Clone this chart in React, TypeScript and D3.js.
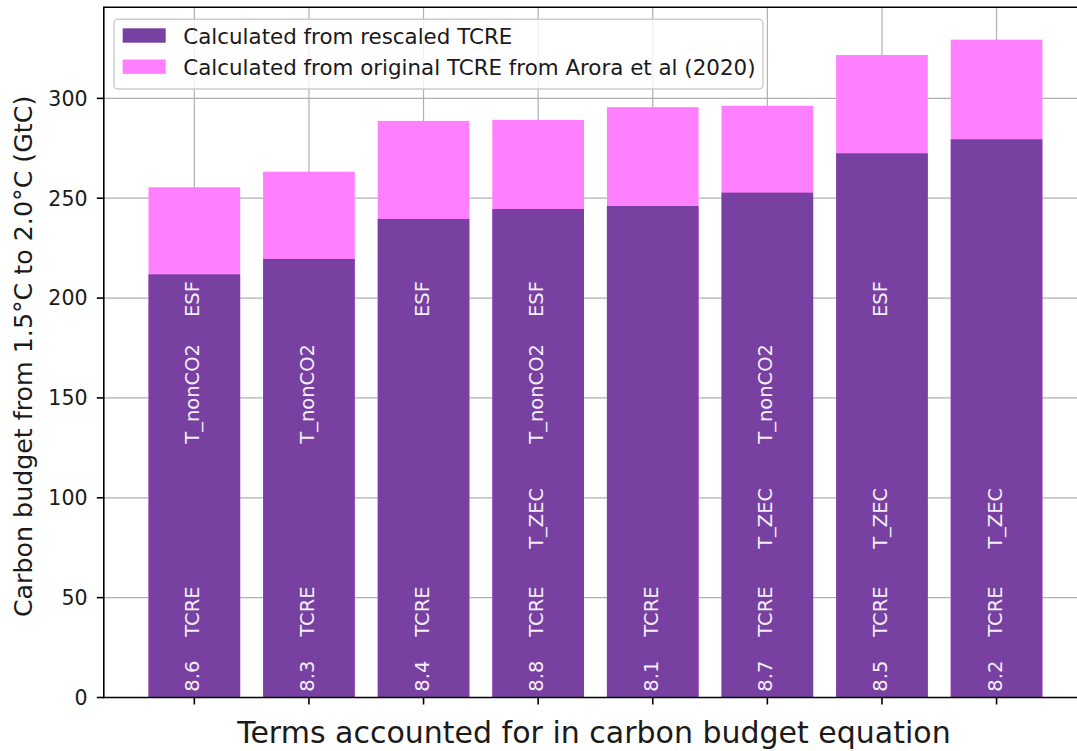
import React from "react";
import * as d3 from "d3";

const sections = ["8.6", "8.3", "8.4", "8.8", "8.1", "8.7", "8.5", "8.2"];
const rescaledTCRE = [211.9, 219.6, 239.6, 244.6, 246.1, 252.8, 272.5, 279.5];
const originalTCRE = [255.5, 263.3, 288.7, 289.2, 295.6, 296.3, 321.7, 329.4];
const termsPerBar = [
  ["TCRE", "T_nonCO2", "ESF"],
  ["TCRE", "T_nonCO2"],
  ["TCRE", "ESF"],
  ["TCRE", "T_ZEC", "T_nonCO2", "ESF"],
  ["TCRE"],
  ["TCRE", "T_ZEC", "T_nonCO2"],
  ["TCRE", "T_ZEC", "ESF"],
  ["TCRE", "T_ZEC"],
];
const termLabelY: Record<string, number> = { TCRE: 43, T_ZEC: 89.7, T_nonCO2: 152, ESF: 199.5 };
const sectionLabelY = 10.7;
const yTicks = [0, 50, 100, 150, 200, 250, 300];
const legendLabels = [
  "Calculated from rescaled TCRE",
  "Calculated from original TCRE from Arora et al (2020)",
];
const xLabel = "Terms accounted for in carbon budget equation";
const yLabel = "Carbon budget from 1.5°C to 2.0°C (GtC)";

const PURPLE = "#7840A0";
const PINK = "#FF80FF";
const FONT = "'DejaVu Sans', sans-serif";

export default function App() {
  const W = 1077;
  const H = 751;
  const x = d3.scaleLinear().domain([-0.79, 7.79]).range([103.8, 1087.1]);
  const y = d3.scaleLinear().domain([0, 345.6]).range([697.5, 7.3]);
  const bw = x(0.8) - x(0);
  const idx = d3.range(sections.length);

  return (
    <svg
      width={W}
      height={H}
      style={{ position: "absolute", left: 0, top: 0, background: "#fff" }}
      fontFamily={FONT}
    >
      {/* grid */}
      <g stroke="#b0b0b0" strokeWidth={1.2}>
        {yTicks.map((t) => (
          <line key={"gy" + t} x1={x(-0.79)} x2={x(7.79)} y1={y(t)} y2={y(t)} />
        ))}
        {idx.map((i) => (
          <line key={"gx" + i} x1={x(i)} x2={x(i)} y1={y(0)} y2={y(345.6)} />
        ))}
      </g>
      {/* bars */}
      {idx.map((i) => (
        <g key={"b" + i}>
          <rect
            x={x(i) - bw / 2}
            width={bw}
            y={y(originalTCRE[i])}
            height={y(0) - y(originalTCRE[i])}
            fill={PINK}
          />
          <rect
            x={x(i) - bw / 2}
            width={bw}
            y={y(rescaledTCRE[i])}
            height={y(0) - y(rescaledTCRE[i])}
            fill={PURPLE}
          />
        </g>
      ))}
      {/* bar labels */}
      {idx.map((i) => (
        <g key={"l" + i} fill="#f4eef8" fontSize={19.5}>
          <text
            transform={`translate(${x(i) + 5},${y(sectionLabelY)}) rotate(-90)`}
            textAnchor="middle"
          >
            {sections[i]}
          </text>
          {termsPerBar[i].map((t) => (
            <text
              key={t}
              transform={`translate(${x(i) + 5},${y(termLabelY[t])}) rotate(-90)`}
              textAnchor="middle"
            >
              {t}
            </text>
          ))}
        </g>
      ))}
      {/* spines */}
      <g stroke="#000" strokeWidth={1.6} fill="none">
        <line x1={x(-0.79)} x2={x(-0.79)} y1={y(0) + 0.8} y2={y(345.6) - 0.8} />
        <line x1={x(-0.79)} x2={x(7.79)} y1={y(0)} y2={y(0)} />
        <line x1={x(-0.79)} x2={x(7.79)} y1={y(345.6)} y2={y(345.6)} />
        <line x1={x(7.79)} x2={x(7.79)} y1={y(0)} y2={y(345.6)} />
      </g>
      {/* y ticks */}
      {yTicks.map((t) => (
        <g key={"yt" + t}>
          <line x1={x(-0.79) - 7} x2={x(-0.79)} y1={y(t)} y2={y(t)} stroke="#000" strokeWidth={1.6} />
          <text x={87.5} y={y(t)} dy="0.36em" textAnchor="end" fontSize={20.5} fill="#1a1a1a">
            {t}
          </text>
        </g>
      ))}
      {/* x ticks */}
      {idx.map((i) => (
        <line key={"xt" + i} x1={x(i)} x2={x(i)} y1={y(0)} y2={y(0) + 7} stroke="#000" strokeWidth={1.6} />
      ))}
      {/* axis labels */}
      <text x={(x(-0.79) + x(7.79)) / 2 - 1.5} y={743} textAnchor="middle" fontSize={30} fill="#1a1a1a">
        {xLabel}
      </text>
      <text
        transform={`translate(32,${(y(0) + y(345.6)) / 2 + 4}) rotate(-90)`}
        textAnchor="middle"
        fontSize={25.3}
        fill="#1a1a1a"
      >
        {yLabel}
      </text>
      {/* legend */}
      <g>
        <rect x={114} y={19.3} width={649} height={69.7} rx={4} fill="#fff" fillOpacity={0.8} stroke="#cccccc" strokeWidth={1.4} />
        {[PURPLE, PINK].map((c, k) => (
          <g key={"lg" + k}>
            <rect x={122.7} y={28.3 + k * 31.2} width={43} height={14.4} fill={c} />
            <text x={183.3} y={43.5 + k * 31.4} fontSize={21.4} fill="#1a1a1a">
              {legendLabels[k]}
            </text>
          </g>
        ))}
      </g>
    </svg>
  );
}
